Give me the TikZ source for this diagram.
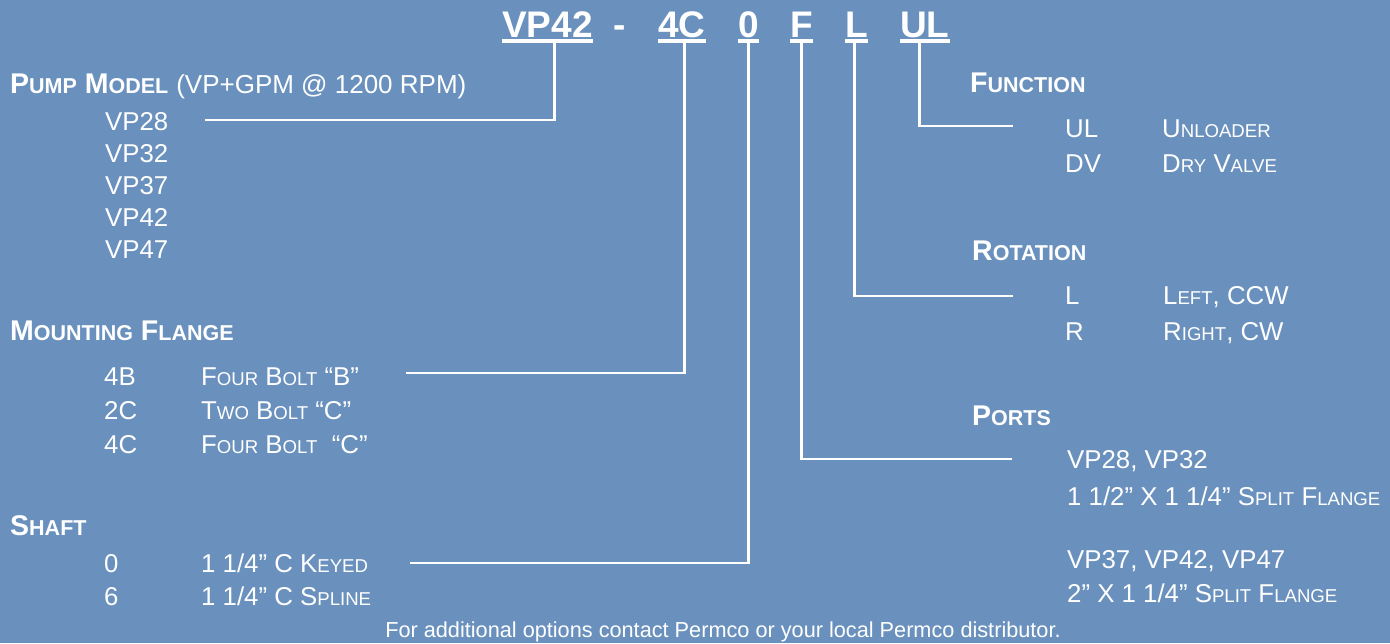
\documentclass[tikz,border=0pt]{standalone}
\usepackage{fontspec}
\setmainfont{Liberation Sans}
\usepackage{xcolor}
\usepackage{tikz}
\usetikzlibrary{positioning,calc}

\definecolor{panelblue}{RGB}{106,145,189}
\newcommand{\hsc}[2]{#1{\fontsize{21.5}{22}\selectfont#2}}
\newcommand{\isc}[2]{#1{\fontsize{18.6}{19}\selectfont#2}}

\tikzset{
    code/.style={font=\bfseries\fontsize{37}{37}\selectfont, text=white, anchor=base west, inner xsep=0pt, inner ysep=4pt, text depth=0pt},
    head/.style={font=\bfseries\fontsize{28.5}{29}\selectfont, text=white, anchor=base west, inner sep=0pt},
    item/.style={font=\fontsize{25.8}{26}\selectfont, text=white, anchor=base west, inner sep=0pt},
    note/.style={font=\fontsize{21.7}{22}\selectfont, text=white, anchor=base, inner sep=0pt},
    wire/.style={draw=white, line width=2.5pt},
    uline/.style={draw=white, line width=3.5pt}
}

\begin{document}
\begin{tikzpicture}[x=1pt, y=-1pt]
    \fill[panelblue] (0,0) rectangle (1390,643);
    \useasboundingbox (0,0) rectangle (1390,643);

    % model code
    \node[code] (cVP) at (502,37) {VP42};
    \node[code] (cDash) at (613,37) {-};
    \node[code] (cMF) at (658,37) {4C};
    \node[code] (cSH) at (738,37) {0};
    \node[code] (cPO) at (790,37) {F};
    \node[code] (cRO) at (845,37) {L};
    \node[code] (cFU) at (900,37) {UL};
    \foreach \c in {cVP,cMF,cSH,cPO,cRO,cFU}
        \draw[uline] (\c.south west) -- (\c.south east);

    % pump model
    \node[head] (hVP) at (10,93) {\hsc{P}{UMP} \hsc{M}{ODEL} {\mdseries\fontsize{26}{26}\selectfont(VP+GPM @ 1200 RPM)}};
    \node[item] (vp28) at (105,130) {VP28};
    \node[item] (vp32) at (105,162) {VP32};
    \node[item] (vp37) at (105,194) {VP37};
    \node[item] (vp42) at (105,226) {VP42};
    \node[item] (vp47) at (105,258) {VP47};

    % mounting flange
    \node[head] (hMF) at (10,340) {\hsc{M}{OUNTING} \hsc{F}{LANGE}};
    \node[item] (mf4B) at (104,385) {4B};
    \node[item] (mf4Bd) at (201,385) {\isc{F}{OUR} \isc{B}{OLT} “B”};
    \node[item] (mf2C) at (104,419) {2C};
    \node[item] (mf2Cd) at (201,419) {\isc{T}{WO} \isc{B}{OLT} “C”};
    \node[item] (mf4C) at (104,453) {4C};
    \node[item] (mf4Cd) at (201,453) {\isc{F}{OUR} \isc{B}{OLT} \ “C”};

    % shaft
    \node[head] (hSH) at (10,535) {\hsc{S}{HAFT}};
    \node[item] (sh0) at (104,572) {0};
    \node[item] (sh0d) at (201,572) {1 1/4” C \isc{K}{EYED}};
    \node[item] (sh6) at (104,605) {6};
    \node[item] (sh6d) at (201,605) {1 1/4” C \isc{S}{PLINE}};

    % function
    \node[head] (hFU) at (970,92) {\hsc{F}{UNCTION}};
    \node[item] (fuUL) at (1065,137) {UL};
    \node[item] (fuULd) at (1162,137) {\isc{U}{NLOADER}};
    \node[item] (fuDV) at (1065,172) {DV};
    \node[item] (fuDVd) at (1162,172) {\isc{D}{RY} \isc{V}{ALVE}};

    % rotation
    \node[head] (hRO) at (972,260) {\hsc{R}{OTATION}};
    \node[item] (roL) at (1065,304) {L};
    \node[item] (roLd) at (1163,304) {\isc{L}{EFT}, CCW};
    \node[item] (roR) at (1065,340) {R};
    \node[item] (roRd) at (1163,340) {\isc{R}{IGHT}, CW};

    % ports
    \node[head] (hPO) at (972,425) {\hsc{P}{ORTS}};
    \node[item] (po1) at (1067,468) {VP28, VP32};
    \node[item] (po1d) at (1067,505) {1 1/2” X 1 1/4” \isc{S}{PLIT} \isc{F}{LANGE}};
    \node[item] (po2) at (1067,568) {VP37, VP42, VP47};
    \node[item] (po2d) at (1067,602) {2” X 1 1/4” \isc{S}{PLIT} \isc{F}{LANGE}};

    \node[note] (foot) at (723,637) {For additional options contact Permco or your local Permco distributor.};

    % line ends
    \coordinate (eVP) at (205,120);
    \coordinate (eMF) at (406,373);
    \coordinate (eSH) at (410,563);
    \coordinate (ePO) at (1012,459);
    \coordinate (eRO) at (1013,296);
    \coordinate (eFU) at (1013,126);

    \draw[wire] ([xshift=7pt]cVP.south) |- (eVP);
    \draw[wire] ([xshift=2.5pt]cMF.south) |- (eMF);
    \draw[wire] (cSH.south) |- (eSH);
    \draw[wire] (cPO.south) |- (ePO);
    \draw[wire] ([xshift=-2pt]cRO.south) |- (eRO);
    \draw[wire] ([xshift=-5.5pt]cFU.south) |- (eFU);
\end{tikzpicture}
\end{document}
